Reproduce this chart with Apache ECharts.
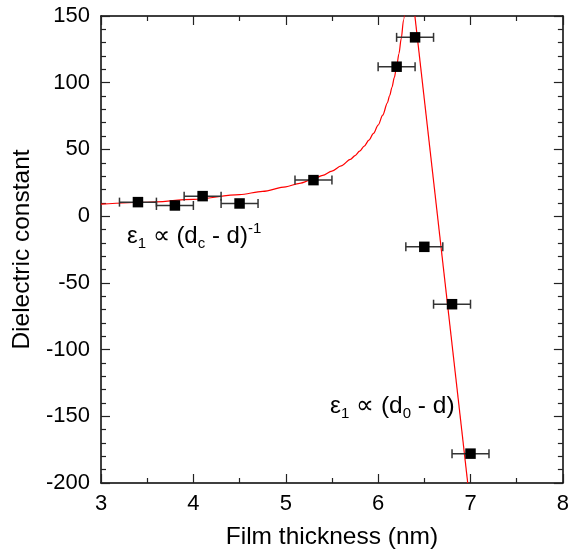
<!DOCTYPE html>
<html>
<head>
<meta charset="utf-8">
<script src="https://cdn.jsdelivr.net/npm/echarts@6/dist/echarts.min.js"></script>
<style>html,body{margin:0;padding:0;background:#fff}#c{width:572px;height:555px}</style>
</head>
<body>
<div id="c"></div>
<script>
// measured points: thickness (nm), dielectric constant, x error (nm)
var thickness = [3.4, 3.8, 4.1, 4.5, 5.3, 6.2, 6.4, 6.5, 6.8, 7.0];
var epsilon   = [10.5, 8, 15, 9.5, 27, 112, 134, -23, -66, -178];
var xErr      = [0.2, 0.2, 0.2, 0.2, 0.2, 0.2, 0.2, 0.2, 0.2, 0.2];
// fit curve 1 (eps ~ (dc-d)^-1)
var fit1X = [3.0, 3.5, 4.0, 4.5, 4.75, 5.0, 5.15, 5.3, 5.4, 5.5, 5.6, 5.7, 5.75, 5.8, 5.85, 5.9, 5.95, 6.0, 6.05, 6.1, 6.125, 6.15, 6.175, 6.2, 6.225, 6.25, 6.275, 6.3];
var fit1Y = [9, 10.4, 12.6, 16.1, 18.6, 22, 24.6, 27.9, 30.6, 33.8, 37.7, 42.5, 45.4, 48.7, 52.5, 56.9, 62.0, 68.2, 75.7, 84.9, 90.4, 96.6, 103.8, 112, 121.7, 133, 147, 164];
// fit line 2 (eps ~ (d0-d))
var fit2X = [6.398, 6.97];
var fit2Y = [150, -200];
// axes
var xTicks = [3, 4, 5, 6, 7, 8];
var yTicks = [-200, -150, -100, -50, 0, 50, 100, 150];

var FONT = 'Liberation Sans, Arial, sans-serif';
var pts = thickness.map(function (x, i) { return [x, epsilon[i]]; });
var errs = thickness.map(function (x, i) { return [x - xErr[i], x + xErr[i], epsilon[i]]; });
var f1 = fit1X.map(function (x, i) { return [x, fit1Y[i]]; });
var f2 = fit2X.map(function (x, i) { return [x, fit2Y[i]]; });

function axisCommon(showLabel) {
  return {
    axisLine: { show: true, onZero: false, lineStyle: { color: '#000', width: 1.5 } },
    axisTick: { show: true, inside: true, length: 9, lineStyle: { color: '#222', width: 1.2 } },
    minorTick: { show: true, length: 5, lineStyle: { color: '#222', width: 1.2 } },
    splitLine: { show: false },
    axisLabel: { show: showLabel, color: '#000', fontSize: 22, fontFamily: FONT }
  };
}

var xb = Object.assign(axisCommon(true), {
  type: 'value', position: 'bottom', min: xTicks[0], max: xTicks[xTicks.length - 1], interval: 1,
  name: 'Film thickness (nm)', nameLocation: 'middle', nameGap: 42,
  nameTextStyle: { color: '#000', fontSize: 24.5, fontFamily: FONT }
});
xb.minorTick.splitNumber = 2; xb.axisLabel.margin = 10;
var xt = Object.assign(axisCommon(false), {
  type: 'value', position: 'top', min: xTicks[0], max: xTicks[xTicks.length - 1], interval: 1
});
xt.minorTick.splitNumber = 2;
var yl = Object.assign(axisCommon(true), {
  type: 'value', position: 'left', min: yTicks[0], max: yTicks[yTicks.length - 1], interval: 50,
  name: 'Dielectric constant', nameLocation: 'middle', nameGap: 66, nameRotate: 90,
  nameTextStyle: { color: '#000', fontSize: 24.5, fontFamily: FONT }
});
yl.minorTick.splitNumber = 5; yl.axisLabel.margin = 11;
var yr = Object.assign(axisCommon(false), {
  type: 'value', position: 'right', min: yTicks[0], max: yTicks[yTicks.length - 1], interval: 50
});
yr.minorTick.splitNumber = 5;

var chart = echarts.init(document.getElementById('c'), null, { renderer: 'canvas' });
chart.setOption({
  animation: false,
  backgroundColor: '#fff',
  grid: { left: 101, right: 5, top: 16, bottom: 72, containLabel: false },
  xAxis: [xb, xt],
  yAxis: [yl, yr],
  graphic: [
    {
      type: 'text', left: 127, top: 220, z: 100,
      style: {
        text: '{a|ε}{s|1}{a| ∝ (d}{s|c}{a| - d)}{p|-1}',
        rich: {
          a: { fontSize: 24, fontFamily: FONT, fill: '#000', lineHeight: 30, verticalAlign: 'middle' },
          s: { fontSize: 15, fontFamily: FONT, fill: '#000', lineHeight: 15, verticalAlign: 'bottom', padding: [16, 0, 0, 0] },
          p: { fontSize: 15, fontFamily: FONT, fill: '#000', lineHeight: 15, verticalAlign: 'top', padding: [0, 0, 16, 0] }
        }
      }
    },
    {
      type: 'text', left: 330, top: 390, z: 100,
      style: {
        text: '{a|ε}{s|1}{a| ∝ (d}{s|0}{a| - d)}',
        rich: {
          a: { fontSize: 24.5, fontFamily: FONT, fill: '#000', lineHeight: 30, verticalAlign: 'middle' },
          s: { fontSize: 15, fontFamily: FONT, fill: '#000', lineHeight: 15, verticalAlign: 'bottom', padding: [16, 0, 0, 0] }
        }
      }
    }
  ],
  series: [
    {
      type: 'line', data: f1, showSymbol: false, symbol: 'none', clip: true,
      smooth: 0.3, smoothMonotone: 'x',
      lineStyle: { color: '#ff0000', width: 1.2 }, z: 3
    },
    {
      type: 'line', data: f2, showSymbol: false, symbol: 'none', clip: true,
      lineStyle: { color: '#ff0000', width: 1.2 }, z: 3
    },
    {
      type: 'custom', data: errs, z: 4, clip: true,
      renderItem: function (params, api) {
        var a = api.coord([api.value(0), api.value(2)]);
        var b = api.coord([api.value(1), api.value(2)]);
        var c = 4.5;
        var st = { stroke: '#333', lineWidth: 1.5 };
        return {
          type: 'group',
          children: [
            { type: 'line', shape: { x1: a[0], y1: a[1], x2: b[0], y2: b[1] }, style: st },
            { type: 'line', shape: { x1: a[0], y1: a[1] - c, x2: a[0], y2: a[1] + c }, style: st },
            { type: 'line', shape: { x1: b[0], y1: b[1] - c, x2: b[0], y2: b[1] + c }, style: st }
          ]
        };
      }
    },
    {
      type: 'scatter', data: pts, symbol: 'rect', symbolSize: 10.5, z: 5,
      itemStyle: { color: '#000', opacity: 1 }
    }
  ]
});
</script>
</body>
</html>
